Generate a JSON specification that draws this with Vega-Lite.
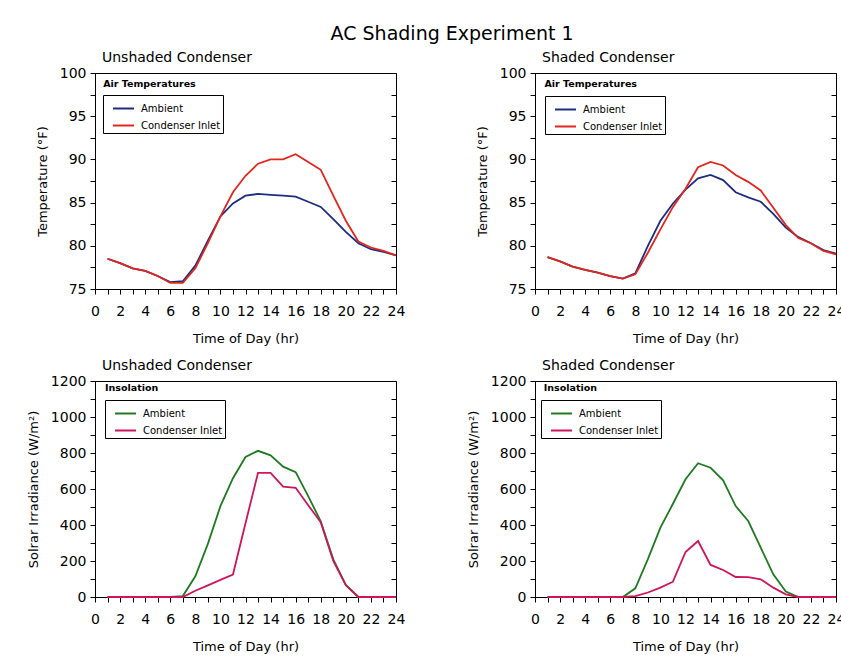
{
  "$schema": "https://vega.github.io/schema/vega-lite/v6.json",
  "padding": {"left": 26, "top": 24, "right": 0, "bottom": 5},
  "background": "white",
  "title": {"text": "AC Shading Experiment 1", "fontSize": 19, "fontWeight": "normal", "anchor": "middle", "offset": 7, "dx": 16, "color": "black"},
  "datasets": {
    "tempU": [
      {"hour":1,"series":"Ambient","value":78.5},{"hour":2,"series":"Ambient","value":78.0},{"hour":3,"series":"Ambient","value":77.4},{"hour":4,"series":"Ambient","value":77.1},{"hour":5,"series":"Ambient","value":76.5},{"hour":6,"series":"Ambient","value":75.8},{"hour":7,"series":"Ambient","value":75.9},{"hour":8,"series":"Ambient","value":77.7},{"hour":9,"series":"Ambient","value":80.6},{"hour":10,"series":"Ambient","value":83.4},{"hour":11,"series":"Ambient","value":84.9},{"hour":12,"series":"Ambient","value":85.8},{"hour":13,"series":"Ambient","value":86.0},{"hour":14,"series":"Ambient","value":85.9},{"hour":15,"series":"Ambient","value":85.8},{"hour":16,"series":"Ambient","value":85.7},{"hour":17,"series":"Ambient","value":85.1},{"hour":18,"series":"Ambient","value":84.5},{"hour":19,"series":"Ambient","value":83.1},{"hour":20,"series":"Ambient","value":81.6},{"hour":21,"series":"Ambient","value":80.3},{"hour":22,"series":"Ambient","value":79.6},{"hour":23,"series":"Ambient","value":79.3},{"hour":24,"series":"Ambient","value":78.9},
      {"hour":1,"series":"Condenser Inlet","value":78.5},{"hour":2,"series":"Condenser Inlet","value":78.0},{"hour":3,"series":"Condenser Inlet","value":77.4},{"hour":4,"series":"Condenser Inlet","value":77.1},{"hour":5,"series":"Condenser Inlet","value":76.5},{"hour":6,"series":"Condenser Inlet","value":75.7},{"hour":7,"series":"Condenser Inlet","value":75.7},{"hour":8,"series":"Condenser Inlet","value":77.4},{"hour":9,"series":"Condenser Inlet","value":80.3},{"hour":10,"series":"Condenser Inlet","value":83.4},{"hour":11,"series":"Condenser Inlet","value":86.2},{"hour":12,"series":"Condenser Inlet","value":88.1},{"hour":13,"series":"Condenser Inlet","value":89.5},{"hour":14,"series":"Condenser Inlet","value":90.0},{"hour":15,"series":"Condenser Inlet","value":90.0},{"hour":16,"series":"Condenser Inlet","value":90.6},{"hour":17,"series":"Condenser Inlet","value":89.7},{"hour":18,"series":"Condenser Inlet","value":88.8},{"hour":19,"series":"Condenser Inlet","value":85.8},{"hour":20,"series":"Condenser Inlet","value":82.9},{"hour":21,"series":"Condenser Inlet","value":80.5},{"hour":22,"series":"Condenser Inlet","value":79.8},{"hour":23,"series":"Condenser Inlet","value":79.4},{"hour":24,"series":"Condenser Inlet","value":78.9}
    ],
    "tempS": [
      {"hour":1,"series":"Ambient","value":78.7},{"hour":2,"series":"Ambient","value":78.2},{"hour":3,"series":"Ambient","value":77.6},{"hour":4,"series":"Ambient","value":77.2},{"hour":5,"series":"Ambient","value":76.9},{"hour":6,"series":"Ambient","value":76.5},{"hour":7,"series":"Ambient","value":76.2},{"hour":8,"series":"Ambient","value":76.8},{"hour":9,"series":"Ambient","value":80.0},{"hour":10,"series":"Ambient","value":82.9},{"hour":11,"series":"Ambient","value":84.9},{"hour":12,"series":"Ambient","value":86.5},{"hour":13,"series":"Ambient","value":87.8},{"hour":14,"series":"Ambient","value":88.2},{"hour":15,"series":"Ambient","value":87.6},{"hour":16,"series":"Ambient","value":86.2},{"hour":17,"series":"Ambient","value":85.6},{"hour":18,"series":"Ambient","value":85.1},{"hour":19,"series":"Ambient","value":83.7},{"hour":20,"series":"Ambient","value":82.1},{"hour":21,"series":"Ambient","value":81.0},{"hour":22,"series":"Ambient","value":80.3},{"hour":23,"series":"Ambient","value":79.5},{"hour":24,"series":"Ambient","value":79.1},
      {"hour":1,"series":"Condenser Inlet","value":78.7},{"hour":2,"series":"Condenser Inlet","value":78.2},{"hour":3,"series":"Condenser Inlet","value":77.6},{"hour":4,"series":"Condenser Inlet","value":77.2},{"hour":5,"series":"Condenser Inlet","value":76.9},{"hour":6,"series":"Condenser Inlet","value":76.5},{"hour":7,"series":"Condenser Inlet","value":76.2},{"hour":8,"series":"Condenser Inlet","value":76.7},{"hour":9,"series":"Condenser Inlet","value":79.2},{"hour":10,"series":"Condenser Inlet","value":81.9},{"hour":11,"series":"Condenser Inlet","value":84.5},{"hour":12,"series":"Condenser Inlet","value":86.6},{"hour":13,"series":"Condenser Inlet","value":89.1},{"hour":14,"series":"Condenser Inlet","value":89.7},{"hour":15,"series":"Condenser Inlet","value":89.3},{"hour":16,"series":"Condenser Inlet","value":88.2},{"hour":17,"series":"Condenser Inlet","value":87.4},{"hour":18,"series":"Condenser Inlet","value":86.4},{"hour":19,"series":"Condenser Inlet","value":84.4},{"hour":20,"series":"Condenser Inlet","value":82.4},{"hour":21,"series":"Condenser Inlet","value":80.9},{"hour":22,"series":"Condenser Inlet","value":80.3},{"hour":23,"series":"Condenser Inlet","value":79.4},{"hour":24,"series":"Condenser Inlet","value":79.0}
    ],
    "solU": [
      {"hour":1,"series":"Ambient","value":0},{"hour":2,"series":"Ambient","value":0},{"hour":3,"series":"Ambient","value":0},{"hour":4,"series":"Ambient","value":0},{"hour":5,"series":"Ambient","value":0},{"hour":6,"series":"Ambient","value":0},{"hour":7,"series":"Ambient","value":5},{"hour":8,"series":"Ambient","value":115},{"hour":9,"series":"Ambient","value":295},{"hour":10,"series":"Ambient","value":505},{"hour":11,"series":"Ambient","value":660},{"hour":12,"series":"Ambient","value":778},{"hour":13,"series":"Ambient","value":812},{"hour":14,"series":"Ambient","value":787},{"hour":15,"series":"Ambient","value":724},{"hour":16,"series":"Ambient","value":694},{"hour":17,"series":"Ambient","value":560},{"hour":18,"series":"Ambient","value":420},{"hour":19,"series":"Ambient","value":209},{"hour":20,"series":"Ambient","value":67},{"hour":21,"series":"Ambient","value":0},{"hour":22,"series":"Ambient","value":0},{"hour":23,"series":"Ambient","value":0},{"hour":24,"series":"Ambient","value":0},
      {"hour":1,"series":"Condenser Inlet","value":0},{"hour":2,"series":"Condenser Inlet","value":0},{"hour":3,"series":"Condenser Inlet","value":0},{"hour":4,"series":"Condenser Inlet","value":0},{"hour":5,"series":"Condenser Inlet","value":0},{"hour":6,"series":"Condenser Inlet","value":0},{"hour":7,"series":"Condenser Inlet","value":0},{"hour":8,"series":"Condenser Inlet","value":35},{"hour":9,"series":"Condenser Inlet","value":65},{"hour":10,"series":"Condenser Inlet","value":95},{"hour":11,"series":"Condenser Inlet","value":125},{"hour":12,"series":"Condenser Inlet","value":410},{"hour":13,"series":"Condenser Inlet","value":690},{"hour":14,"series":"Condenser Inlet","value":690},{"hour":15,"series":"Condenser Inlet","value":613},{"hour":16,"series":"Condenser Inlet","value":607},{"hour":17,"series":"Condenser Inlet","value":510},{"hour":18,"series":"Condenser Inlet","value":415},{"hour":19,"series":"Condenser Inlet","value":200},{"hour":20,"series":"Condenser Inlet","value":65},{"hour":21,"series":"Condenser Inlet","value":0},{"hour":22,"series":"Condenser Inlet","value":0},{"hour":23,"series":"Condenser Inlet","value":0},{"hour":24,"series":"Condenser Inlet","value":0}
    ],
    "solS": [
      {"hour":1,"series":"Ambient","value":0},{"hour":2,"series":"Ambient","value":0},{"hour":3,"series":"Ambient","value":0},{"hour":4,"series":"Ambient","value":0},{"hour":5,"series":"Ambient","value":0},{"hour":6,"series":"Ambient","value":0},{"hour":7,"series":"Ambient","value":0},{"hour":8,"series":"Ambient","value":48},{"hour":9,"series":"Ambient","value":210},{"hour":10,"series":"Ambient","value":385},{"hour":11,"series":"Ambient","value":518},{"hour":12,"series":"Ambient","value":654},{"hour":13,"series":"Ambient","value":743},{"hour":14,"series":"Ambient","value":718},{"hour":15,"series":"Ambient","value":648},{"hour":16,"series":"Ambient","value":505},{"hour":17,"series":"Ambient","value":422},{"hour":18,"series":"Ambient","value":274},{"hour":19,"series":"Ambient","value":126},{"hour":20,"series":"Ambient","value":30},{"hour":21,"series":"Ambient","value":0},{"hour":22,"series":"Ambient","value":0},{"hour":23,"series":"Ambient","value":0},{"hour":24,"series":"Ambient","value":0},
      {"hour":1,"series":"Condenser Inlet","value":0},{"hour":2,"series":"Condenser Inlet","value":0},{"hour":3,"series":"Condenser Inlet","value":0},{"hour":4,"series":"Condenser Inlet","value":0},{"hour":5,"series":"Condenser Inlet","value":0},{"hour":6,"series":"Condenser Inlet","value":0},{"hour":7,"series":"Condenser Inlet","value":0},{"hour":8,"series":"Condenser Inlet","value":5},{"hour":9,"series":"Condenser Inlet","value":25},{"hour":10,"series":"Condenser Inlet","value":52},{"hour":11,"series":"Condenser Inlet","value":85},{"hour":12,"series":"Condenser Inlet","value":250},{"hour":13,"series":"Condenser Inlet","value":311},{"hour":14,"series":"Condenser Inlet","value":178},{"hour":15,"series":"Condenser Inlet","value":150},{"hour":16,"series":"Condenser Inlet","value":111},{"hour":17,"series":"Condenser Inlet","value":110},{"hour":18,"series":"Condenser Inlet","value":98},{"hour":19,"series":"Condenser Inlet","value":52},{"hour":20,"series":"Condenser Inlet","value":15},{"hour":21,"series":"Condenser Inlet","value":0},{"hour":22,"series":"Condenser Inlet","value":0},{"hour":23,"series":"Condenser Inlet","value":0},{"hour":24,"series":"Condenser Inlet","value":0}
    ]
  },
  "columns": 2,
  "spacing": {"row": 12, "column": 60},
  "resolve": {"scale": {"color": "independent", "y": "independent", "x": "independent"}, "legend": {"color": "independent"}},
  "concat": [
    {
      "width": 301, "height": 216,
      "title": {"text": "Unshaded Condenser", "frame": "group", "dx": 7},
      "data": {"name": "tempU"},
      "layer": [
        {"mark": {"type": "line", "strokeWidth": 1.8},
         "encoding": {
           "x": {"field": "hour", "type": "quantitative", "scale": {"domain": [0, 24], "nice": false},
                 "axis": {"title": "Time of Day (hr)", "labelOverlap": false, "values": [0,1,2,3,4,5,6,7,8,9,10,11,12,13,14,15,16,17,18,19,20,21,22,23,24], "labelExpr": "datum.value % 2 === 0 ? datum.label : ''"}},
           "y": {"field": "value", "type": "quantitative", "scale": {"domain": [75, 100], "nice": false, "zero": false},
                 "axis": {"title": "Temperature (°F)", "labelOverlap": false, "values": [75,77.5,80,82.5,85,87.5,90,92.5,95,97.5,100], "labelExpr": "datum.value % 5 === 0 ? datum.label : ''"}},
           "color": {"field": "series", "type": "nominal", "scale": {"domain": ["Ambient", "Condenser Inlet"], "range": ["#1c2d80", "#e3261d"]},
                     "legend": {"orient": "none", "legendX": 8, "legendY": 22, "title": null}}
         }},
        {"mark": {"type": "line", "opacity": 0},
         "encoding": {
           "x": {"field": "hour", "type": "quantitative",
                 "axis": {"title": "Time of Day (hr)", "labelOverlap": false, "values": [0,1,2,3,4,5,6,7,8,9,10,11,12,13,14,15,16,17,18,19,20,21,22,23,24], "labelExpr": "datum.value % 2 === 0 ? datum.label : ''"}},
           "y": {"field": "value", "type": "quantitative", "axis": {"orient": "right", "title": null, "labels": false, "domain": false, "tickSize": -5, "values": [75,77.5,80,82.5,85,87.5,90,92.5,95,97.5,100]}},
           "detail": {"field": "series"}
         }},
        {"data": {"values": [{"label": "Air Temperatures"}]},
         "mark": {"type": "text", "align": "left", "baseline": "top", "fontSize": 9.5, "fontWeight": "bold"},
         "encoding": {"x": {"datum": 0.65, "axis": {"title": "Time of Day (hr)", "labelOverlap": false, "values": [0,1,2,3,4,5,6,7,8,9,10,11,12,13,14,15,16,17,18,19,20,21,22,23,24], "labelExpr": "datum.value % 2 === 0 ? datum.label : ''"}}, "y": {"datum": 99.3, "axis": null}, "text": {"field": "label"}}}
      ],
      "resolve": {"axis": {"y": "independent"}}
    },
    {
      "width": 301, "height": 216,
      "title": {"text": "Shaded Condenser", "frame": "group", "dx": 7},
      "data": {"name": "tempS"},
      "layer": [
        {"mark": {"type": "line", "strokeWidth": 1.8},
         "encoding": {
           "x": {"field": "hour", "type": "quantitative", "scale": {"domain": [0, 24], "nice": false},
                 "axis": {"title": "Time of Day (hr)", "labelOverlap": false, "values": [0,1,2,3,4,5,6,7,8,9,10,11,12,13,14,15,16,17,18,19,20,21,22,23,24], "labelExpr": "datum.value % 2 === 0 ? datum.label : ''"}},
           "y": {"field": "value", "type": "quantitative", "scale": {"domain": [75, 100], "nice": false, "zero": false},
                 "axis": {"title": "Temperature (°F)", "labelOverlap": false, "values": [75,77.5,80,82.5,85,87.5,90,92.5,95,97.5,100], "labelExpr": "datum.value % 5 === 0 ? datum.label : ''"}},
           "color": {"field": "series", "type": "nominal", "scale": {"domain": ["Ambient", "Condenser Inlet"], "range": ["#1c2d80", "#e3261d"]},
                     "legend": {"orient": "none", "legendX": 10, "legendY": 23, "title": null}}
         }},
        {"mark": {"type": "line", "opacity": 0},
         "encoding": {
           "x": {"field": "hour", "type": "quantitative",
                 "axis": {"title": "Time of Day (hr)", "labelOverlap": false, "values": [0,1,2,3,4,5,6,7,8,9,10,11,12,13,14,15,16,17,18,19,20,21,22,23,24], "labelExpr": "datum.value % 2 === 0 ? datum.label : ''"}},
           "y": {"field": "value", "type": "quantitative", "axis": {"orient": "right", "title": null, "labels": false, "domain": false, "tickSize": -5, "values": [75,77.5,80,82.5,85,87.5,90,92.5,95,97.5,100]}},
           "detail": {"field": "series"}
         }},
        {"data": {"values": [{"label": "Air Temperatures"}]},
         "mark": {"type": "text", "align": "left", "baseline": "top", "fontSize": 9.5, "fontWeight": "bold"},
         "encoding": {"x": {"datum": 0.75, "axis": {"title": "Time of Day (hr)", "labelOverlap": false, "values": [0,1,2,3,4,5,6,7,8,9,10,11,12,13,14,15,16,17,18,19,20,21,22,23,24], "labelExpr": "datum.value % 2 === 0 ? datum.label : ''"}}, "y": {"datum": 99.3, "axis": null}, "text": {"field": "label"}}}
      ],
      "resolve": {"axis": {"y": "independent"}}
    },
    {
      "width": 301, "height": 216,
      "title": {"text": "Unshaded Condenser", "frame": "group", "dx": 7},
      "data": {"name": "solU"},
      "layer": [
        {"mark": {"type": "line", "strokeWidth": 1.8},
         "encoding": {
           "x": {"field": "hour", "type": "quantitative", "scale": {"domain": [0, 24], "nice": false},
                 "axis": {"title": "Time of Day (hr)", "labelOverlap": false, "values": [0,1,2,3,4,5,6,7,8,9,10,11,12,13,14,15,16,17,18,19,20,21,22,23,24], "labelExpr": "datum.value % 2 === 0 ? datum.label : ''"}},
           "y": {"field": "value", "type": "quantitative", "scale": {"domain": [0, 1200], "nice": false},
                 "axis": {"title": "Solrar Irradiance (W/m²)", "format": "d", "labelOverlap": false, "values": [0,100,200,300,400,500,600,700,800,900,1000,1100,1200], "labelExpr": "datum.value % 200 === 0 ? datum.label : ''"}},
           "color": {"field": "series", "type": "nominal", "scale": {"domain": ["Ambient", "Condenser Inlet"], "range": ["#1f7a22", "#d0145a"]},
                     "legend": {"orient": "none", "legendX": 10, "legendY": 19, "title": null}}
         }},
        {"mark": {"type": "line", "opacity": 0},
         "encoding": {
           "x": {"field": "hour", "type": "quantitative",
                 "axis": {"title": "Time of Day (hr)", "labelOverlap": false, "values": [0,1,2,3,4,5,6,7,8,9,10,11,12,13,14,15,16,17,18,19,20,21,22,23,24], "labelExpr": "datum.value % 2 === 0 ? datum.label : ''"}},
           "y": {"field": "value", "type": "quantitative", "axis": {"orient": "right", "title": null, "labels": false, "domain": false, "tickSize": -5, "values": [0,100,200,300,400,500,600,700,800,900,1000,1100,1200]}},
           "detail": {"field": "series"}
         }},
        {"data": {"values": [{"label": "Insolation"}]},
         "mark": {"type": "text", "align": "left", "baseline": "top", "fontSize": 9.5, "fontWeight": "bold"},
         "encoding": {"x": {"datum": 0.8, "axis": {"title": "Time of Day (hr)", "labelOverlap": false, "values": [0,1,2,3,4,5,6,7,8,9,10,11,12,13,14,15,16,17,18,19,20,21,22,23,24], "labelExpr": "datum.value % 2 === 0 ? datum.label : ''"}}, "y": {"datum": 1190, "axis": null}, "text": {"field": "label"}}}
      ],
      "resolve": {"axis": {"y": "independent"}}
    },
    {
      "width": 301, "height": 216,
      "title": {"text": "Shaded Condenser", "frame": "group", "dx": 7},
      "data": {"name": "solS"},
      "layer": [
        {"mark": {"type": "line", "strokeWidth": 1.8},
         "encoding": {
           "x": {"field": "hour", "type": "quantitative", "scale": {"domain": [0, 24], "nice": false},
                 "axis": {"title": "Time of Day (hr)", "labelOverlap": false, "values": [0,1,2,3,4,5,6,7,8,9,10,11,12,13,14,15,16,17,18,19,20,21,22,23,24], "labelExpr": "datum.value % 2 === 0 ? datum.label : ''"}},
           "y": {"field": "value", "type": "quantitative", "scale": {"domain": [0, 1200], "nice": false},
                 "axis": {"title": "Solrar Irradiance (W/m²)", "format": "d", "labelOverlap": false, "values": [0,100,200,300,400,500,600,700,800,900,1000,1100,1200], "labelExpr": "datum.value % 200 === 0 ? datum.label : ''"}},
           "color": {"field": "series", "type": "nominal", "scale": {"domain": ["Ambient", "Condenser Inlet"], "range": ["#1f7a22", "#d0145a"]},
                     "legend": {"orient": "none", "legendX": 6, "legendY": 19, "title": null}}
         }},
        {"mark": {"type": "line", "opacity": 0},
         "encoding": {
           "x": {"field": "hour", "type": "quantitative",
                 "axis": {"title": "Time of Day (hr)", "labelOverlap": false, "values": [0,1,2,3,4,5,6,7,8,9,10,11,12,13,14,15,16,17,18,19,20,21,22,23,24], "labelExpr": "datum.value % 2 === 0 ? datum.label : ''"}},
           "y": {"field": "value", "type": "quantitative", "axis": {"orient": "right", "title": null, "labels": false, "domain": false, "tickSize": -5, "values": [0,100,200,300,400,500,600,700,800,900,1000,1100,1200]}},
           "detail": {"field": "series"}
         }},
        {"data": {"values": [{"label": "Insolation"}]},
         "mark": {"type": "text", "align": "left", "baseline": "top", "fontSize": 9.5, "fontWeight": "bold"},
         "encoding": {"x": {"datum": 0.7, "axis": {"title": "Time of Day (hr)", "labelOverlap": false, "values": [0,1,2,3,4,5,6,7,8,9,10,11,12,13,14,15,16,17,18,19,20,21,22,23,24], "labelExpr": "datum.value % 2 === 0 ? datum.label : ''"}}, "y": {"datum": 1190, "axis": null}, "text": {"field": "label"}}}
      ],
      "resolve": {"axis": {"y": "independent"}}
    }
  ],
  "config": {
    "font": "DejaVu Sans",
    "view": {"stroke": "black", "strokeWidth": 1},
    "title": {"fontSize": 14, "fontWeight": "normal", "anchor": "start", "offset": 1, "color": "black"},
    "axis": {"domainColor": "black", "tickColor": "black", "labelColor": "black", "titleColor": "black", "grid": false,
             "labelFontSize": 14, "titleFontSize": 13, "titleFontWeight": "normal", "tickSize": 5, "labelPadding": 4,
             "titlePadding": 10, "labelFlush": false, "labelOverlap": false, "labelAngle": 0},
    "axisX": {"labelPadding": 10, "titlePadding": 14},
    "legend": {"symbolType": "stroke", "symbolStrokeWidth": 2, "symbolSize": 441, "labelFontSize": 10, "labelColor": "black",
               "labelExpr": "datum.label + '\u00a0\u00a0\u00a0\u00a0\u00a0'",
               "strokeColor": "black", "padding": 2, "rowPadding": -7, "labelOffset": 6, "fillColor": "white", "symbolOffset": 7}
  }
}
